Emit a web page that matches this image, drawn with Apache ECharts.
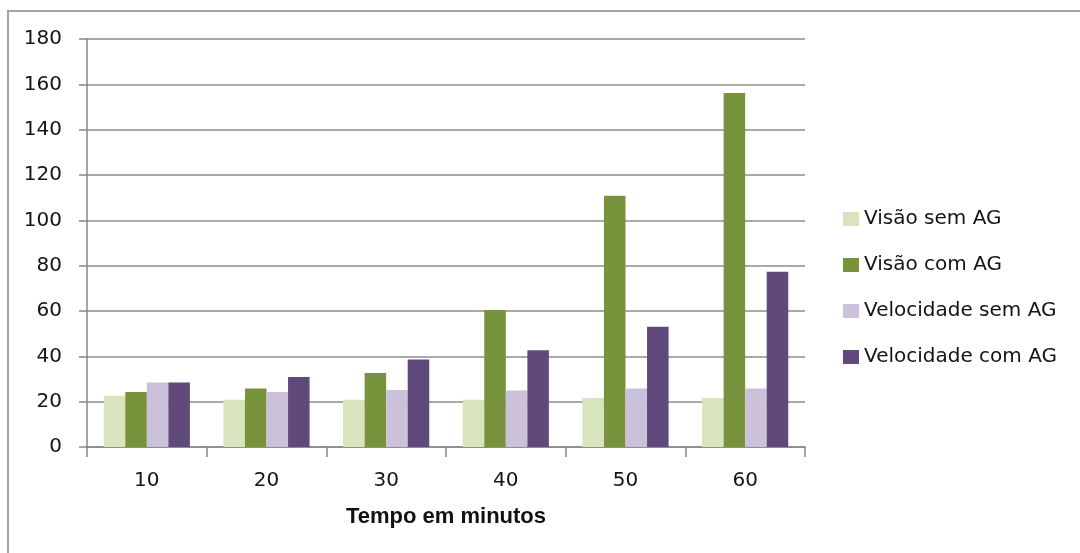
<!DOCTYPE html>
<html>
<head>
<meta charset="utf-8">
<script src="https://cdn.jsdelivr.net/npm/echarts@6/dist/echarts.min.js"></script>
<style>
html,body{margin:0;padding:0;background:#fff;}
#chart{width:1080px;height:553px;}
</style>
</head>
<body>
<div id="chart"></div>
<script>
const categories = ['10', '20', '30', '40', '50', '60'];
const seriesNames = ['Visão sem AG', 'Visão com AG', 'Velocidade sem AG', 'Velocidade com AG'];
const visaoSemAG = [22.6, 20.8, 20.8, 20.8, 21.6, 21.6];
const visaoComAG = [24.3, 25.8, 32.7, 60.4, 110.9, 156.2];
const velocidadeSemAG = [28.5, 24.3, 25.1, 24.9, 25.8, 25.8];
const velocidadeComAG = [28.5, 30.9, 38.6, 42.7, 53.0, 77.3];
const xAxisTitle = 'Tempo em minutos';

const colors = ['#D7E4BD', '#77933C', '#CCC1DA', '#604A7B'];
const allValues = [visaoSemAG, visaoComAG, velocidadeSemAG, velocidadeComAG];
const FONT = 'DejaVu Sans';

const chart = echarts.init(document.getElementById('chart'));
chart.setOption({
  animation: false,
  backgroundColor: '#ffffff',
  color: colors,
  graphic: [{
    type: 'rect',
    shape: { x: 8, y: 11, width: 1200, height: 700 },
    style: { fill: 'none', stroke: '#a3a3a3', lineWidth: 2 },
    silent: true
  }],
  grid: { left: 87, right: 275, top: 39, bottom: 106, containLabel: false },
  legend: {
    orient: 'vertical',
    left: 838,
    top: 204,
    itemWidth: 16,
    itemHeight: 14,
    itemGap: 26,
    itemTextGap: 6,
    icon: 'rect',
    textStyle: { fontFamily: FONT, fontSize: 20, color: '#141414', lineHeight: 20 },
    data: seriesNames
  },
  xAxis: {
    type: 'category',
    data: categories,
    boundaryGap: true,
    name: xAxisTitle,
    nameLocation: 'middle',
    nameGap: 59,
    nameTextStyle: { fontFamily: 'Liberation Sans', fontWeight: 'bold', fontSize: 22, color: '#111' },
    axisLine: { show: true, lineStyle: { color: '#868686', width: 1.5 } },
    axisTick: { show: true, length: 10, lineStyle: { color: '#868686', width: 1.5 } },
    axisLabel: { fontFamily: FONT, fontSize: 20, color: '#141414', margin: 24 },
    splitLine: { show: false }
  },
  yAxis: {
    type: 'value',
    min: 0,
    max: 180,
    interval: 20,
    axisLine: { show: true, lineStyle: { color: '#868686', width: 1.5 } },
    axisTick: { show: true, length: 8, lineStyle: { color: '#868686', width: 1.5 } },
    axisLabel: { fontFamily: FONT, fontSize: 20, color: '#141414', margin: 25 },
    splitLine: { show: true, lineStyle: { color: '#8c8c8c', width: 1.5 } }
  },
  series: seriesNames.map((name, i) => ({
    name: name,
    type: 'bar',
    data: allValues[i],
    barWidth: '18%',
    barGap: '0%',
    itemStyle: { color: colors[i] }
  }))
});
</script>
</body>
</html>
